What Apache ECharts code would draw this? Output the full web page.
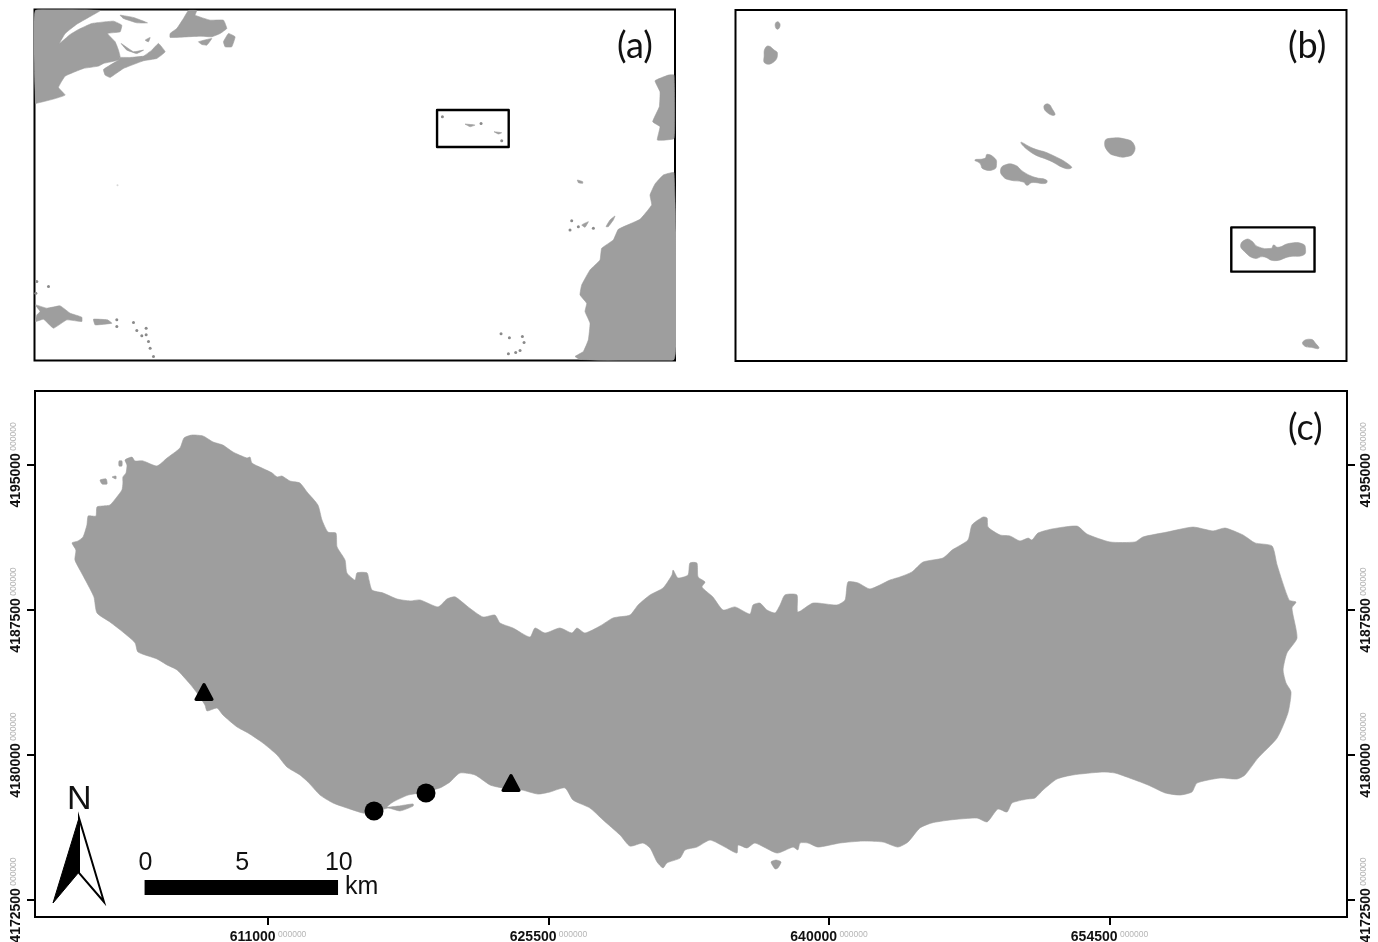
<!DOCTYPE html>
<html>
<head>
<meta charset="utf-8">
<title>Study area map</title>
<script src="https://cdn.jsdelivr.net/npm/echarts@6/dist/echarts.min.js"></script>
<style>
html,body{margin:0;padding:0;background:#fff}
#main{width:1378px;height:942px;filter:blur(0.45px)}
</style>
</head>
<body>
<div id="main"></div>
<script>
// ---------- Panel (c): projected map units, metres (easting, northing) ----------
const eastingTicks = [611000, 625500, 640000, 654500];
const northingTicks = [4172500, 4180000, 4187500, 4195000];
const tickSuffix = '000000';

const saoMiguelCoast = [
[600870,4190970],[601180,4191070],[601440,4191280],[601640,4191900],[601700,4192360],[601900,4192360],[602110,4192360],[602160,4192830],[602470,4192880],[602830,4192930],
[603190,4193350],[603450,4193710],[603500,4194070],[603500,4194380],[603660,4194590],[603710,4195000],[603610,4195260],[603970,4195410],[604120,4195210],[604540,4195210],
[605260,4194950],[605780,4195360],[606450,4195880],[606660,4196400],[607070,4196550],[607640,4196500],[608160,4196190],[608670,4196030],[609190,4195670],[609910,4195360],
[610070,4195410],[610170,4195100],[610690,4194840],[611210,4194590],[611470,4194380],[611720,4194430],[612140,4194170],[612650,4194070],[613020,4193600],[613580,4192930],
[613790,4192160],[614100,4191530],[614510,4191480],[614570,4190760],[614980,4190090],[615080,4189420],[615500,4189050],[615600,4189420],[616120,4189420],[616220,4189050],
[616380,4188530],[616950,4188380],[617670,4188070],[618340,4187970],[618860,4188020],[619790,4187660],[620250,4188070],[620670,4188180],[621340,4187660],[622110,4187140],
[622730,4187240],[622990,4186830],[623660,4186570],[624540,4186100],[624800,4186570],[625320,4186310],[626090,4186570],[626710,4186310],[626970,4186570],[627380,4186310],
[628160,4186670],[628840,4187090],[629710,4187240],[630130,4187760],[630750,4188280],[631420,4188640],[631880,4189310],[631940,4189570],[632190,4189160],[632710,4189310],
[632810,4189930],[633170,4189930],[633230,4189210],[633590,4188950],[633430,4188690],[634000,4188170],[634520,4187500],[635140,4187660],[635910,4187290],[636070,4187760],
[636430,4187860],[636790,4187500],[637210,4187350],[637470,4187760],[637720,4188280],[638340,4188280],[638390,4187400],[639170,4187860],[640410,4187760],[640830,4188020],
[640980,4188950],[641500,4188900],[642120,4188590],[643150,4189050],[643670,4189210],[644290,4189470],[644860,4189980],[645890,4190190],[646360,4190600],[647180,4191120],
[647390,4191900],[647960,4192310],[648170,4192260],[648220,4191790],[648840,4191380],[649350,4191330],[649870,4191070],[650290,4191220],[650490,4191120],[650800,4191480],
[651520,4191690],[652820,4191840],[653330,4191430],[654520,4191020],[655820,4191020],[656230,4191280],[657470,4191530],[658810,4191790],[659850,4191590],[660470,4191740],
[661400,4191380],[662020,4190970],[662900,4190810],[663160,4189830],[663780,4188020],[664140,4187910],[663930,4187600],[664190,4186050],[663670,4185280],[663470,4184400],
[663620,4183730],[663880,4183260],[663720,4182170],[663160,4180880],[662170,4179840],[661500,4178970],[661090,4178760],[660210,4178810],[659020,4178550],[658760,4178090],
[658140,4177930],[657370,4178040],[656490,4178450],[655400,4178860],[654780,4179070],[654110,4179120],[652610,4178970],[651780,4178760],[651060,4178190],[650650,4177780],
[650230,4177720],[649460,4177520],[649200,4177050],[648730,4177210],[648170,4176540],[647650,4176740],[646250,4176640],[645320,4176490],[644700,4176230],[644080,4175500],
[643560,4175240],[642790,4175500],[641750,4175550],[640570,4175450],[639430,4175240],[638910,4175450],[638500,4175450],[638390,4175090],[638140,4175240],[637310,4174930],
[636170,4175450],[635760,4175190],[635300,4175350],[635240,4174930],[634620,4175240],[633850,4175600],[633170,4175240],[632560,4175090],[632300,4174670],[631620,4174420],
[631420,4174160],[631110,4174470],[630750,4175190],[630380,4175450],[629710,4175290],[629200,4175860],[628320,4176640],[627640,4177260],[626770,4177670],[626350,4178300],
[625580,4178090],[624960,4177980],[624130,4178190],[623100,4178300],[622480,4178450],[621700,4178970],[620920,4179070],[620410,4178610],[619890,4178300],[618860,4178040],
[618240,4177930],[617460,4177570],[617150,4177310],[617720,4177360],[618500,4177470],[618500,4177360],[617820,4177110],[617200,4177260],[616430,4177000],[615910,4177000],
[615080,4177260],[614360,4177520],[613690,4177930],[613070,4178600],[612650,4178970],[611980,4179380],[611470,4180000],[610740,4180620],[609970,4181140],[609400,4181450],
[608670,4182070],[608360,4182430],[607850,4182280],[607740,4182590],[607330,4183210],[606970,4183670],[606300,4184400],[605780,4184660],[605260,4184970],[604280,4185330],
[604130,4185800],[603500,4186360],[602830,4186880],[602160,4187350],[602000,4188180],[601640,4188900],[601280,4189570],[601020,4190090],[601070,4190600]
];
const saoMiguelIslets = [
[[602320,4194220],[602630,4194280],[602680,4194020],[602420,4194020]],
[[602940,4194380],[603140,4194430],[603140,4194280]],
[[603300,4195210],[603450,4195210],[603450,4194950],[603300,4194950]],
[[637000,4174470],[637260,4174570],[637520,4174470],[637360,4174160],[637210,4174110]]
];
const triangleSites = [[607692,4183260],[623561,4178553]];
const circleSites = [[616479,4177105],[619167,4178036]];

const scaleBarStart = [604620, 4173536];
const scaleBarEnd = [614620, 4172760];
const scaleBarLabels = [[604660,4174430,'0'],[609660,4174430,'5'],[614660,4174430,'10']];
const scaleBarUnit = [[614980,4173150,'km']];

// ---------- Panel (a): North Atlantic, relative map units ----------
const atlanticLand = [
[[46,31],[240,31],[205,52],[170,72],[135,100],[118,130],[150,103],[175,88],[215,70],[280,63],[305,75],[300,95],[262,100],[285,125],[295,150],[300,170],[295,180],[250,190],[235,198],[190,205],[135,228],[115,262],[135,285],[100,297],[48,310],[46,310]],
[[300,172],[330,172],[370,168],[395,150],[415,130],[435,155],[410,175],[370,182],[310,205],[270,232],[255,225],[250,208],[295,180]],
[[303,130],[340,155],[370,150],[350,160],[320,150]],
[[300,45],[340,52],[382,68],[350,68],[310,55]],
[[505,31],[530,31],[525,45],[570,60],[610,60],[620,85],[600,100],[575,110],[540,108],[450,112],[450,100],[470,85],[490,55]],
[[610,125],[625,100],[645,110],[635,140],[615,140]],
[[535,125],[575,115],[560,135],[545,133]],
[[375,120],[390,112],[385,125]],
[[46,915],[80,925],[120,918],[150,940],[185,952],[185,965],[140,960],[100,985],[70,958],[46,965],[50,945],[60,935]],
[[220,958],[262,960],[275,970],[225,975]],
[[1962,225],[1945,225],[1905,242],[1920,275],[1918,320],[1898,365],[1920,380],[1912,420],[1962,415]],
[[1962,518],[1930,525],[1905,552],[1890,585],[1895,615],[1860,658],[1795,688],[1780,720],[1745,745],[1740,780],[1710,810],[1685,855],[1680,885],[1700,910],[1695,935],[1710,970],[1705,1020],[1690,1055],[1665,1070],[1680,1079],[1962,1079]],
[[1672,540],[1688,545],[1688,550],[1675,548]],
[[1685,675],[1705,665],[1695,682]],
[[1758,680],[1770,660],[1785,648],[1780,660],[1765,680]],
[[1335,372],[1365,375],[1350,380]],
[[1422,395],[1445,398],[1435,402]]
];
const atlanticIslets = [
[290,960],[290,980],[340,968],[350,992],[378,985],[378,1005],[365,1008],[385,1025],[390,1045],[400,1070],[85,860],[50,845],[47,880],
[1655,662],[1675,680],[1720,685],[1650,690],[1443,1002],[1468,1014],[1507,1010],[1512,1028],[1465,1062],[1487,1058],[1500,1052],[1267,350],[1383,370],[1445,422]
];
const atlanticFaintIslets = [[292,556]];
const atlanticBox = [[1251,330],[1466,330],[1466,441],[1251,441]];

// ---------- Panel (b): Azores archipelago, relative map units ----------
const azoresLand = [
[[135,75],[142,65],[150,75],[142,88]],
[[105,145],[115,138],[132,150],[142,160],[132,185],[105,190],[102,165]],
[[942,320],[955,312],[968,328],[975,345],[955,340]],
[[1125,425],[1140,415],[1190,418],[1212,432],[1212,458],[1190,470],[1160,468],[1135,455]],
[[873,427],[910,445],[960,462],[1025,500],[1010,506],[960,482],[905,458]],
[[735,480],[765,475],[772,463],[795,475],[800,490],[793,508],[760,507],[750,490]],
[[812,510],[825,495],[855,495],[880,515],[915,532],[950,540],[948,550],[905,548],[892,556],[880,546],[840,540],[820,530]],
[[1533,735],[1550,718],[1565,722],[1585,740],[1625,745],[1632,735],[1645,742],[1680,730],[1720,732],[1728,748],[1722,765],[1680,770],[1635,782],[1600,770],[1575,775],[1545,755]],
[[1720,1025],[1745,1018],[1758,1030],[1768,1045],[1745,1042],[1725,1038]]
];
const azoresBox = [[1505,682],[1755,682],[1755,815],[1505,815]];

const panelLabels = ['(a)', '(b)', '(c)'];
const landColor = '#9e9e9e';

// ---------- helpers ----------
function landSeries(polys, i, smooth) {
  return {
    type: 'custom', xAxisIndex: i, yAxisIndex: i, silent: true, clip: true,
    data: polys.map(p => p[0]),
    encode: { x: 0, y: 1 },
    renderItem(params, api) {
      const pts = polys[params.dataIndex].map(p => api.coord(p));
      return { type: 'polygon', shape: { points: pts, smooth: smooth },
        style: { fill: landColor, stroke: landColor, lineWidth: 0.6, lineJoin: 'round' } };
    }
  };
}
function boxSeries(box, i) {
  return {
    type: 'custom', xAxisIndex: i, yAxisIndex: i, silent: true, z: 5,
    data: [box[0]], encode: { x: 0, y: 1 },
    renderItem(params, api) {
      return { type: 'polygon', shape: { points: box.map(p => api.coord(p)) },
        style: { fill: 'none', stroke: '#000', lineWidth: 2.4, lineJoin: 'round' } };
    }
  };
}
function textSeries(items, align) {
  return {
    type: 'custom', xAxisIndex: 2, yAxisIndex: 2, silent: true, z: 6,
    data: items, encode: { x: 0, y: 1 },
    renderItem(params, api) {
      const c = api.coord([api.value(0), api.value(1)]);
      return { type: 'text', x: c[0], y: c[1],
        style: { text: items[params.dataIndex][2], fill: '#111', align: align, verticalAlign: 'middle',
          font: '25px "Liberation Sans", Arial, sans-serif' } };
    }
  };
}
const hiddenAxis = (gridIndex, min, max, inverse) => ({
  type: 'value', gridIndex, min, max, inverse: !!inverse,
  axisLine: { show: false }, axisTick: { show: false }, axisLabel: { show: false }, splitLine: { show: false }
});
const labelRich = {
  a: { fontFamily: '"Liberation Sans", Arial, sans-serif', fontWeight: 'bold', fontSize: 14, color: '#111' },
  b: { fontFamily: '"Liberation Sans", Arial, sans-serif', fontSize: 8.5, color: '#b5b5b5', verticalAlign: 'top' }
};
const tickFmt = v => '{a|' + v + '}{b| ' + tickSuffix + '}';
const mapAxisLine = { show: true, onZero: false, lineStyle: { color: '#000', width: 2 } };
const panelFont = '36px Lato, "Open Sans", sans-serif';

const option = {
  animation: false,
  backgroundColor: '#fff',
  grid: [
    { left: 34.5, top: 9.5, width: 640.5, height: 351, show: true, borderColor: '#000', borderWidth: 2, outerBoundsMode: 'none' },
    { left: 735.5, top: 10, width: 611, height: 351, show: true, borderColor: '#000', borderWidth: 2, outerBoundsMode: 'none' },
    { left: 35, top: 391, width: 1312, height: 526, show: true, borderColor: '#000', borderWidth: 2, outerBoundsMode: 'none' }
  ],
  xAxis: [
    hiddenAxis(0, 43, 1965),
    hiddenAxis(1, 16, 1851),
    {
      type: 'value', gridIndex: 2, min: 598956, max: 666774, position: 'bottom',
      axisLine: mapAxisLine, splitLine: { show: false },
      axisTick: { show: true, length: 8, customValues: eastingTicks, lineStyle: { color: '#000', width: 2 } },
      axisLabel: { show: true, customValues: eastingTicks, margin: 13, formatter: tickFmt, rich: labelRich }
    }
  ],
  yAxis: [
    hiddenAxis(0, 28, 1082, true),
    hiddenAxis(1, 30, 1083, true),
    {
      type: 'value', gridIndex: 2, min: 4171623, max: 4198827, position: 'left',
      axisLine: mapAxisLine, splitLine: { show: false },
      axisTick: { show: true, length: 8, customValues: northingTicks, lineStyle: { color: '#000', width: 2 } },
      axisLabel: { show: true, customValues: northingTicks, rotate: 90, margin: 12, formatter: tickFmt, rich: labelRich }
    },
    {
      type: 'value', gridIndex: 2, min: 4171623, max: 4198827, position: 'right',
      axisLine: mapAxisLine, splitLine: { show: false },
      axisTick: { show: true, length: 8, customValues: northingTicks, lineStyle: { color: '#000', width: 2 } },
      axisLabel: { show: true, customValues: northingTicks, rotate: 90, margin: 12, formatter: tickFmt, rich: labelRich }
    }
  ],
  series: [
    landSeries(atlanticLand, 0, 0.1),
    {
      type: 'scatter', xAxisIndex: 0, yAxisIndex: 0, silent: true, data: atlanticIslets,
      symbol: 'circle', symbolSize: 3, itemStyle: { color: '#8a8a8a', opacity: 1 }
    },
    {
      type: 'scatter', xAxisIndex: 0, yAxisIndex: 0, silent: true, data: atlanticFaintIslets,
      symbol: 'circle', symbolSize: 2, itemStyle: { color: '#d8d8d8', opacity: 1 }
    },
    boxSeries(atlanticBox, 0),
    landSeries(azoresLand, 1, 0.5),
    boxSeries(azoresBox, 1),
    landSeries([saoMiguelCoast].concat(saoMiguelIslets), 2, 0.2),
    {
      type: 'scatter', xAxisIndex: 2, yAxisIndex: 2, silent: true, z: 6, data: triangleSites,
      symbol: 'triangle', symbolSize: [16, 15], itemStyle: { color: '#000', opacity: 1, borderColor: '#000', borderWidth: 3, borderJoin: 'round' }
    },
    {
      type: 'scatter', xAxisIndex: 2, yAxisIndex: 2, silent: true, z: 6, data: circleSites,
      symbol: 'circle', symbolSize: 19, itemStyle: { color: '#000', opacity: 1 }
    },
    {
      type: 'custom', xAxisIndex: 2, yAxisIndex: 2, silent: true, z: 6,
      data: [[scaleBarStart[0], scaleBarStart[1], scaleBarEnd[0], scaleBarEnd[1]]], encode: { x: [0, 2], y: [1, 3] },
      renderItem(params, api) {
        const a = api.coord([api.value(0), api.value(1)]);
        const b = api.coord([api.value(2), api.value(3)]);
        return { type: 'rect', shape: { x: a[0], y: a[1], width: b[0] - a[0], height: b[1] - a[1] }, style: { fill: '#000' } };
      }
    },
    textSeries(scaleBarLabels, 'center'),
    textSeries(scaleBarUnit, 'left')
  ],
  graphic: [
    { type: 'text', left: 617, top: 28, style: { text: panelLabels[0], fill: '#111', font: panelFont } },
    { type: 'text', left: 1288, top: 28, style: { text: panelLabels[1], fill: '#111', font: panelFont } },
    { type: 'text', left: 1288, top: 410, style: { text: panelLabels[2], fill: '#111', font: panelFont } },
    { type: 'text', left: 67, top: 783, style: { text: 'N', fill: '#111', font: '34px "Liberation Sans", Arial, sans-serif' } },
    { type: 'polygon', shape: { points: [[79,818],[79,872],[53,903]] }, style: { fill: '#000', stroke: '#000', lineWidth: 1 } },
    { type: 'polygon', shape: { points: [[79,818],[104,902],[79,873]] }, style: { fill: '#fff', stroke: '#000', lineWidth: 2, lineJoin: 'miter' } }
  ]
};
echarts.init(document.getElementById('main')).setOption(option);
</script>
</body>
</html>
